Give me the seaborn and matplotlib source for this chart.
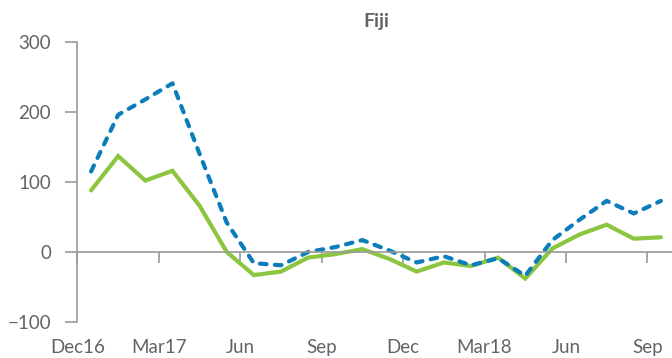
import matplotlib
matplotlib.use("Agg")
import matplotlib.pyplot as plt
import seaborn as sns
import pandas as pd
import numpy as np

# Monthly observations, Dec 2016 to Sep 2018
months = ["Dec16", "Jan17", "Feb17", "Mar17", "Apr17", "May17", "Jun17", "Jul17",
          "Aug17", "Sep17", "Oct17", "Nov17", "Dec17", "Jan18", "Feb18", "Mar18",
          "Apr18", "May18", "Jun18", "Jul18", "Aug18", "Sep18"]
dashed_vals = [115, 196, 218, 241, 140, 42, -16, -19, 0, 7, 17, 2,
               -15, -6, -19, -9, -34, 17, 46, 73, 55, 73]
solid_vals = [88, 137, 102, 116, 66, 0, -33, -28, -8, -3, 4, -10,
              -28, -15, -20, -8, -38, 5, 25, 39, 19, 21]

tick_labels = ["Dec16", "Mar17", "Jun", "Sep", "Dec", "Mar18", "Jun", "Sep"]
y_ticks = [-100, 0, 100, 200, 300]
title = "Fiji"

BLUE = "#0b7dbb"
GREEN = "#8cc540"
AXIS = "#9a9a9a"
TEXT = "#636466"

sns.set_theme(style="white")
plt.rcParams["font.family"] = ["Lato", "DejaVu Sans"]

df = pd.DataFrame({
    "idx": np.arange(len(months)),
    "month": months,
    "dashed": dashed_vals,
    "solid": solid_vals,
})

fig = plt.figure(figsize=(6.72, 3.58), dpi=100)
ax = fig.add_axes([0.1153, 0.1006, 0.8884, 0.7821])

sns.lineplot(data=df, x="idx", y="solid", ax=ax, color=GREEN, linewidth=3.0,
             solid_joinstyle="miter")
sns.lineplot(data=df, x="idx", y="dashed", ax=ax, color=BLUE, linewidth=3.0,
             dashes=False)
ax.lines[-1].set_dashes([1.6, 2.0])
ax.lines[-1].set_dash_capstyle("round")

ax.set_xlim(-0.5, len(months) - 0.5)
ax.set_ylim(-100, 300)

# Category-boundary ticks every quarter
boundary_pos = np.arange(len(tick_labels)) * 3 - 0.5
ax.set_xticks(boundary_pos)
ax.set_xticklabels([])
ax.set_yticks(y_ticks)
ax.set_yticklabels([f"\u2212{abs(v)}" if v < 0 else str(v) for v in y_ticks])

for side in ("top", "right"):
    ax.spines[side].set_visible(False)
ax.spines["left"].set_color(AXIS)
ax.spines["left"].set_linewidth(1.2)
ax.spines["bottom"].set_position(("data", 0))
ax.spines["bottom"].set_color(AXIS)
ax.spines["bottom"].set_linewidth(1.2)

ax.tick_params(axis="y", direction="out", length=9, width=1.2, color=AXIS,
               labelsize=13.5, labelcolor=TEXT, pad=10, left=True)
ax.tick_params(axis="x", direction="out", length=8, width=1.2, color=AXIS,
               bottom=True, labelbottom=False)

sec = ax.secondary_xaxis("bottom")
sec.set_xticks(boundary_pos)
sec.set_xticklabels(tick_labels)
sec.tick_params(axis="x", length=0, labelsize=13.5, labelcolor=TEXT, pad=12)
sec.spines["bottom"].set_visible(False)

ax.set_xlabel("")
ax.set_ylabel("")
ax.set_title(title, fontsize=14, fontweight="bold", color=TEXT, pad=11)

fig.savefig("out.png", dpi=100)
